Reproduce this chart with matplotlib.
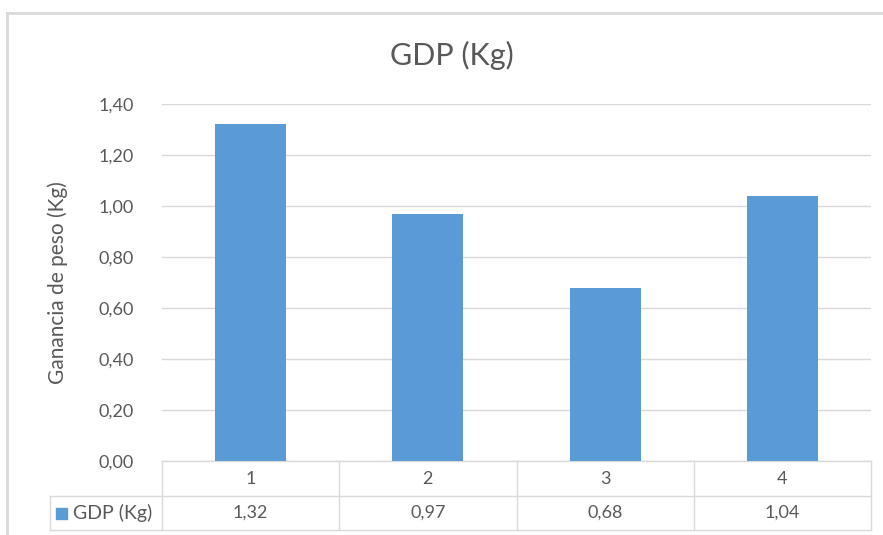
import matplotlib.pyplot as plt
from matplotlib.lines import Line2D
from matplotlib.patches import Rectangle

categories = ["1", "2", "3", "4"]
values = [1.32, 0.97, 0.68, 1.04]
series_name = "GDP (Kg)"
yticks = [0.0, 0.2, 0.4, 0.6, 0.8, 1.0, 1.2, 1.4]

bar_color = "#5B9BD5"
text_color = "#595959"
grid_color = "#D9D9D9"

plt.rcParams['font.family'] = ['Lato', 'DejaVu Sans']

W, H = 883, 535
fig = plt.figure(figsize=(W / 100, H / 100), dpi=100)

# plot area in pixels
x0, x1 = 162, 871
y_top, y_bot = 104, 461
ax = fig.add_axes([x0 / W, (H - y_bot) / H, (x1 - x0) / W, (y_bot - y_top) / H])

xs = list(range(len(categories)))
ax.bar(xs, values, width=0.4, color=bar_color, zorder=3)
ax.set_xlim(-0.5, len(categories) - 0.5)
ax.set_ylim(0, 1.4)
ax.set_yticks(yticks)
ax.set_yticklabels([f"{t:.2f}".replace(".", ",") for t in yticks],
                   fontsize=13, color=text_color)
ax.tick_params(axis='y', length=0, pad=20)
ax.set_xticks([])
ax.grid(axis='y', color=grid_color, linewidth=1, zorder=0)
for s in ax.spines.values():
    s.set_visible(False)

ax.set_ylabel("Ganancia de peso (Kg)", fontsize=15, color=text_color)
ax.yaxis.set_label_coords(-(x0 - 68) / (x1 - x0), 0.5 - (283 - (y_top + y_bot) / 2) / (y_bot - y_top))

fig.text(452 / W, 1 - 55 / H, "GDP (Kg)", fontsize=22, color=text_color,
         ha='center', va='center')

# data table below the axis
ph = y_bot - y_top
r1 = -35 / ph
r2 = -69 / ph
cat_w = (x1 - x0) / len(categories)
leg_left = -0.5 - (x0 - 50) / cat_w
tr = ax.get_xaxis_transform()

def hline(xa, xb, y):
    ax.add_line(Line2D([xa, xb], [y, y], transform=tr, color=grid_color,
                       linewidth=1, clip_on=False))

def vline(x, ya, yb):
    ax.add_line(Line2D([x, x], [ya, yb], transform=tr, color=grid_color,
                       linewidth=1, clip_on=False))

hline(-0.5, len(categories) - 0.5, 0)
hline(leg_left, len(categories) - 0.5, r1)
hline(leg_left, len(categories) - 0.5, r2)
for i in range(len(categories) + 1):
    vline(i - 0.5, 0, r2)
vline(leg_left, r1, r2)

for i, c in enumerate(categories):
    ax.text(i, r1 / 2, c, transform=tr, ha='center', va='center',
            fontsize=13, color=text_color)
    ax.text(i, (r1 + r2) / 2, f"{values[i]:.2f}".replace(".", ","), transform=tr,
            ha='center', va='center', fontsize=13, color=text_color)

fig.patches.append(Rectangle((56 / W, 1 - 519 / H), 11 / W, 11 / H,
                             transform=fig.transFigure, color=bar_color))
fig.text(73 / W, 1 - 513 / H, series_name, fontsize=14, color=text_color,
         ha='left', va='center')

# chart border
fig.add_artist(Line2D([7 / W, 7 / W], [0, 1 - 13 / H], transform=fig.transFigure,
                      color=grid_color, linewidth=2))
fig.add_artist(Line2D([7 / W, 1], [1 - 13 / H, 1 - 13 / H], transform=fig.transFigure,
                      color=grid_color, linewidth=2))

fig.savefig("out.png", dpi=100)
